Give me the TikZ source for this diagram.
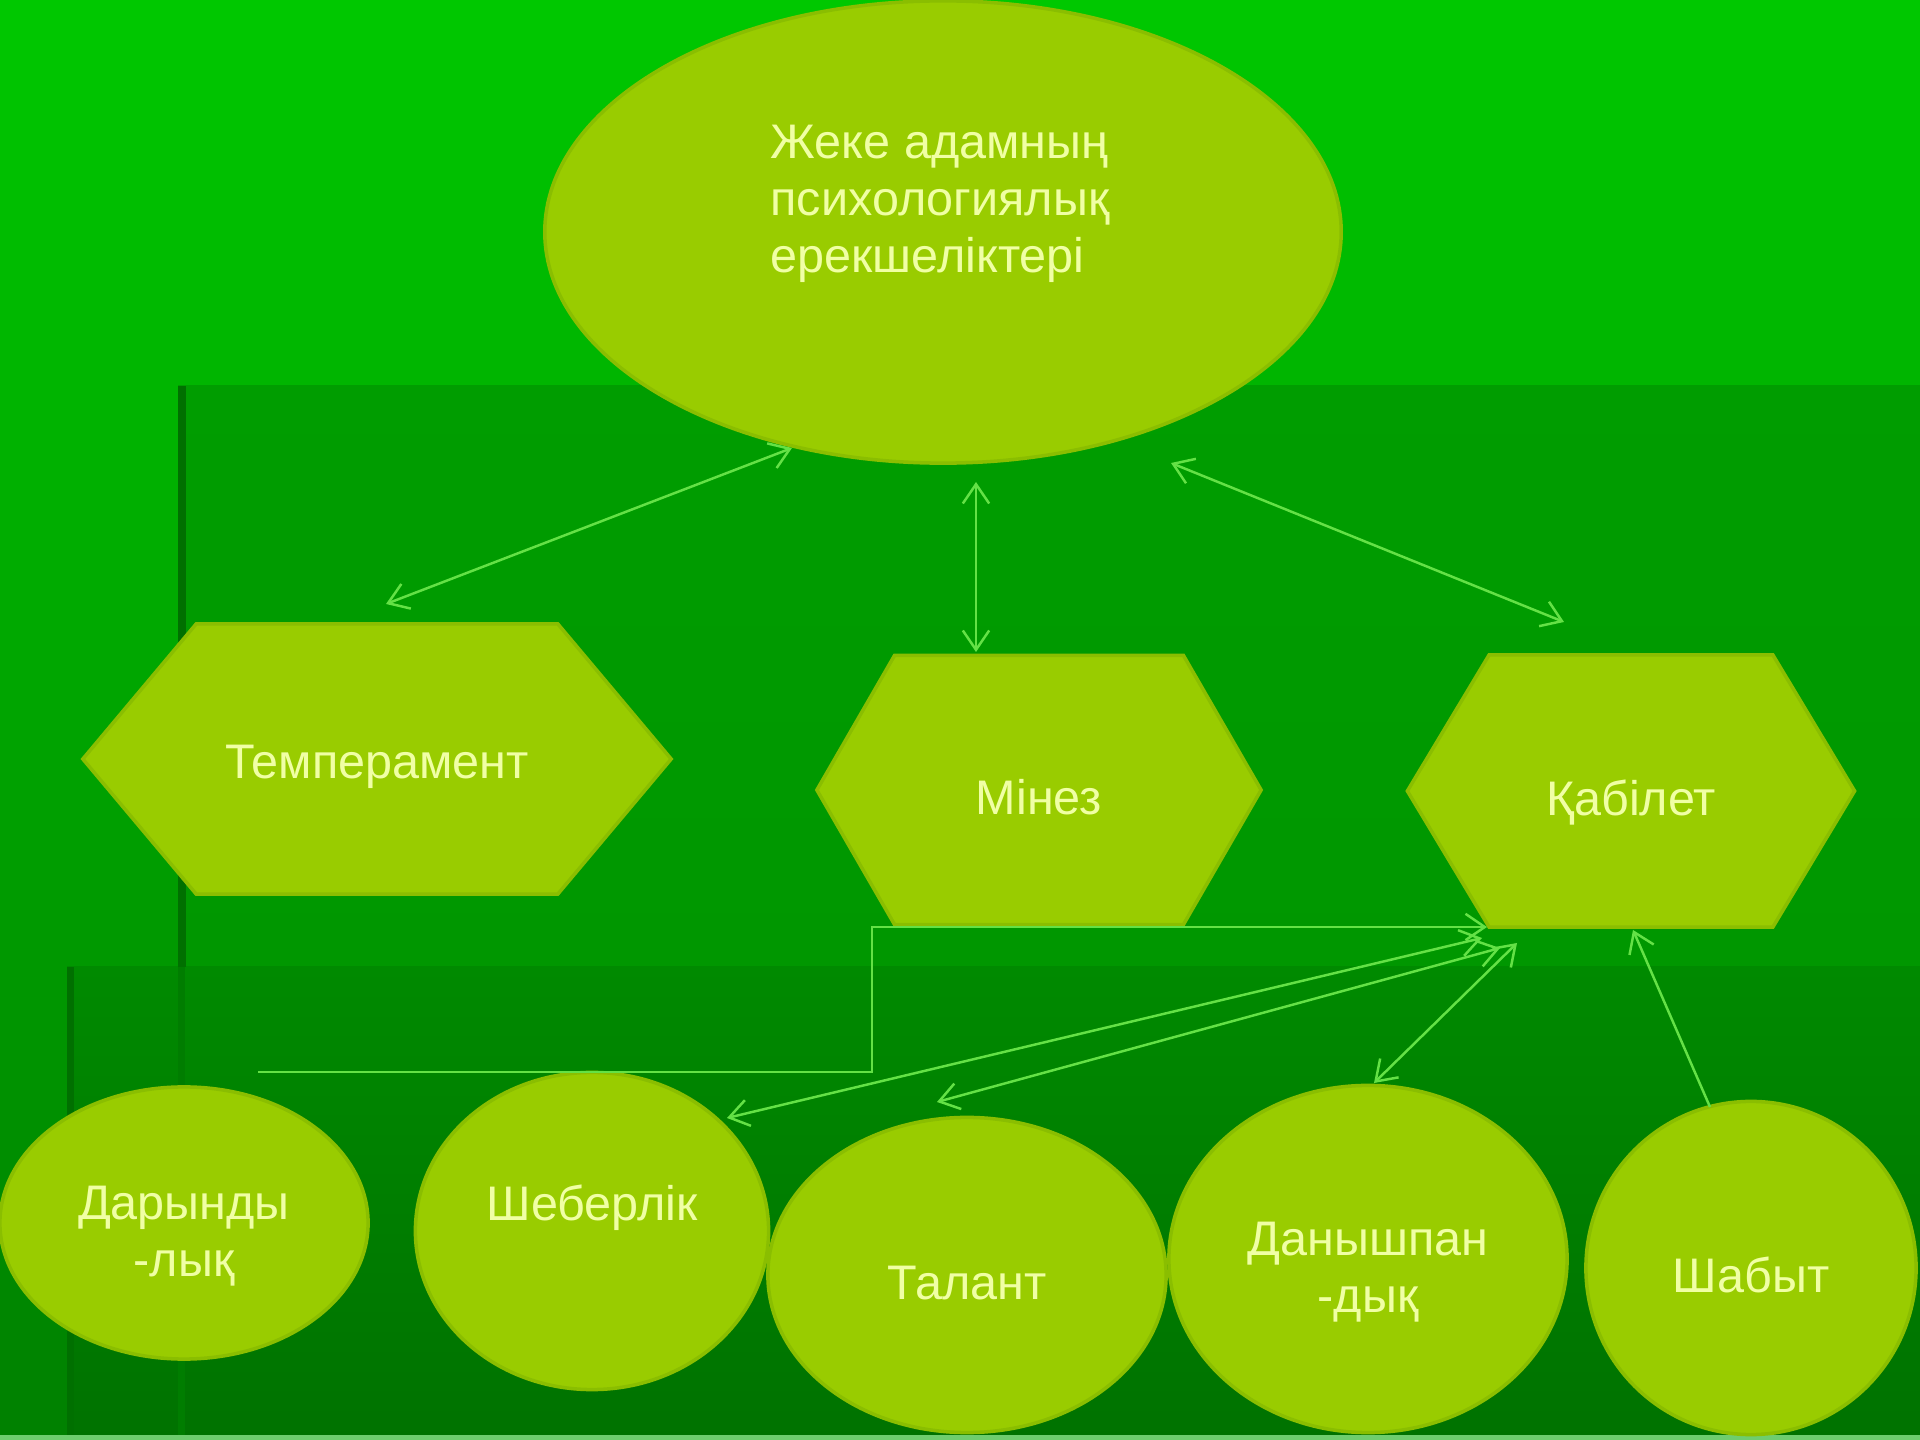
\documentclass[tikz,border=0pt]{standalone}
\usepackage{fontspec}
\setmainfont{Liberation Sans}
\usetikzlibrary{shapes.geometric,shapes.symbols,arrows.meta,calc}
\definecolor{topgreen}{RGB}{0,200,0}
\definecolor{basebottom}{RGB}{0,128,0}
\definecolor{midgreen}{RGB}{0,157,0}
\definecolor{midgreenlow}{RGB}{0,146,0}
\definecolor{lowgreen}{RGB}{0,138,0}
\definecolor{lowgreenb}{RGB}{0,114,0}
\definecolor{edgegreen}{RGB}{0,112,0}
\definecolor{bottomline}{RGB}{110,205,110}
\definecolor{shapefill}{RGB}{153,204,0}
\definecolor{shapeedge}{RGB}{138,190,0}
\definecolor{labeltext}{RGB}{240,255,165}
\definecolor{arrowgreen}{RGB}{100,225,70}
\newcommand{\topstrut}{\rule{0pt}{0.6cm}}
\tikzset{
  txt/.style={text=labeltext, font=\fontsize{13.8}{16.2}\selectfont},
  oval/.style={ellipse, fill=shapefill, draw=shapeedge, line width=1pt, inner sep=0pt, outer sep=0pt, txt},
  oneline/.style={text height=0.48cm, text depth=0pt},
  hexa/.style={signal, signal to=east and west, fill=shapefill, draw=shapeedge, line width=1pt,
    inner sep=0pt, outer sep=0pt, txt, oneline},
  link/.style={draw=arrowgreen, line width=0.7pt,
    {Straight Barb[length=5.5pt,width=7.5pt]}-{Straight Barb[length=5.5pt,width=7.5pt]}},
  onelink/.style={draw=arrowgreen, line width=0.7pt, -{Straight Barb[length=5.5pt,width=7.5pt]}}
}
\begin{document}
\begin{tikzpicture}[x=0.01cm, y=-0.01cm]
\useasboundingbox (0,0) rectangle (1920,1440);
% background panels
\shade[top color=topgreen, bottom color=basebottom] (0,0) rectangle (1920,1440);
\shade[top color=midgreen, bottom color=midgreenlow] (178,386) rectangle (1920,1440);
\shade[top color=lowgreen, bottom color=lowgreenb] (67,967) rectangle (1920,1440);
\fill[edgegreen] (178,386) rectangle (186,967);
\fill[edgegreen] (67,967) rectangle (74,1440);
\fill[edgegreen!50!lowgreen] (178,967) rectangle (185,1440);
\fill[bottomline] (0,1435) rectangle (1920,1440);

% top
\node[oval, minimum width=7.96cm, minimum height=4.62cm] (psy) at (943,232) {};
\node[txt, align=left] (psylabel) at (940,204) {Жеке адамның\\психологиялық\\ерекшеліктері};

% middle row
\node[hexa, text height=0.38cm, minimum width=5.88cm, minimum height=2.7cm, signal pointer angle=100] (temp) at (377,759) {Темперамент};
\node[hexa, minimum width=4.44cm, minimum height=2.69cm, signal pointer angle=120] (minez) at (1039,790) {Мінез};
\node[hexa, minimum width=4.47cm, minimum height=2.72cm, signal pointer angle=118] (qab) at (1631,791) {Қабілет};

% bottom row
\node[oval, minimum width=3.68cm, minimum height=2.72cm, align=center] (dar) at (184,1223) {\topstrut Дарынды\\-лық};
\node[oval, minimum width=3.53cm, minimum height=3.17cm, text height=0.4cm, text depth=0.6cm] (sheb) at (592,1231) {Шеберлік};
\node[oval, oneline, minimum width=3.98cm, minimum height=3.15cm] (tal) at (967,1275) {Талант};
\node[oval, minimum width=3.98cm, minimum height=3.47cm, align=center] (dan) at (1368,1259) {\topstrut Данышпан\\-дық};
\node[oval, oneline, minimum width=3.30cm, minimum height=3.33cm] (shab) at (1751,1268) {Шабыт};

% connectors
\draw[link] ($(psy)+(-151,216)$) -- ($(temp)+(9,-155)$);
\draw[link] ($(psy)+(33,250)$) -- ($(minez)+(-63,-138)$);
\draw[link] ($(psy)+(228,231)$) -- ($(qab)+(-67,-169)$);
\draw[onelink] ($(dar)+(74,-151)$) -- ++(614,0) |- ($(qab)+(-144,136)$);
\draw[link] ($(sheb)+(135,-113)$) -- ($(qab)+(-149,147)$);
\draw[link] ($(tal)+(-30,-173)$) -- ($(qab)+(-131,157)$);
\draw[link] ($(dan)+(6,-176)$) -- ($(qab)+(-114,152)$);
\draw[onelink] ($(shab)+(-41,-161)$) -- ($(qab)+(2,139)$);
\end{tikzpicture}
\end{document}
